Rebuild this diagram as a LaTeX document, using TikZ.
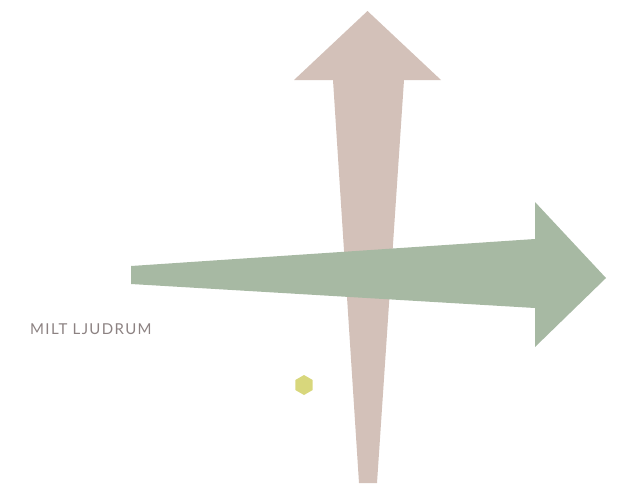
\documentclass[tikz,border=0pt]{standalone}
\usepackage{fontspec}
\setmainfont{Lato}
\newfontfamily\lblfont[LetterSpace=9]{Lato}
\usetikzlibrary{shapes.geometric}
\definecolor{tanc}{HTML}{D3C1B9}
\definecolor{greenc}{HTML}{A7B9A3}
\definecolor{hexc}{HTML}{D8D77C}
\definecolor{textc}{HTML}{8C8282}
\begin{document}
\begin{tikzpicture}[x=1pt,y=-1pt]
\useasboundingbox (0,0) rectangle (623,483);
\fill[tanc] (359,483) -- (333,80) -- (294,80) -- (367.5,11) -- (441,80) -- (404,80) -- (377,483) -- cycle;
\fill[greenc] (131,266) -- (535,239) -- (535,202) -- (606,278) -- (535,347) -- (535,308) -- (131,284) -- cycle;
\node[regular polygon, regular polygon sides=6, shape border rotate=30, fill=hexc, minimum size=20pt, inner sep=0pt] (hex) at (304,385) {};
\node[anchor=west, inner sep=0pt, text=textc, font=\lblfont\fontsize{15}{15}\selectfont] (lbl) at (30,329.5) {MILT LJUDRUM};
\end{tikzpicture}
\end{document}
